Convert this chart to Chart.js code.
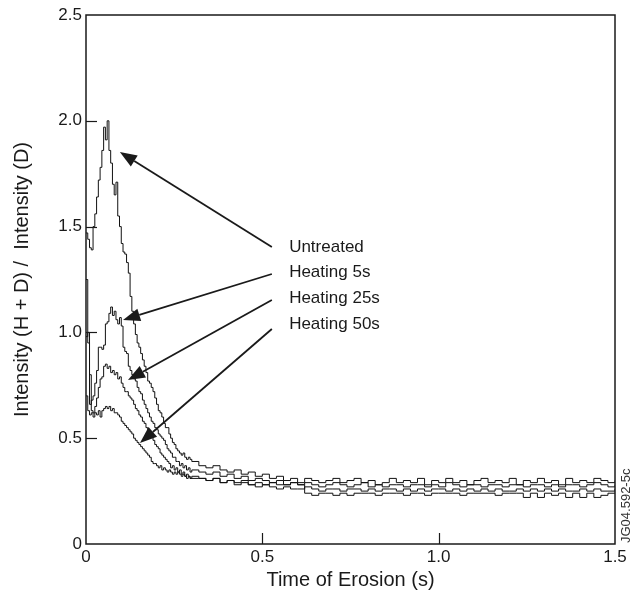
<!DOCTYPE html>
<html>
<head>
<meta charset="utf-8">
<script src="https://cdn.jsdelivr.net/npm/chart.js@4"></script>
<style>
  html, body { margin: 0; padding: 0; background: #fff; }
  #wrap { width: 641px; height: 601px; }
</style>
</head>
<body>
<div id="wrap"><canvas id="erosionChart" width="641" height="601"></canvas></div>
<script>
// sample times (s)
const times = [
  0, 0.005, 0.01, 0.015, 0.02, 0.025, 0.03, 0.035, 0.04, 0.045,
  0.05, 0.055, 0.06, 0.065, 0.07, 0.075, 0.08, 0.085, 0.09, 0.095,
  0.1, 0.105, 0.11, 0.115, 0.12, 0.125, 0.13, 0.135, 0.14, 0.145,
  0.15, 0.155, 0.16, 0.165, 0.17, 0.175, 0.18, 0.185, 0.19, 0.195,
  0.2, 0.205, 0.21, 0.215, 0.22, 0.225, 0.23, 0.235, 0.24, 0.245,
  0.25, 0.255, 0.26, 0.265, 0.27, 0.275, 0.28, 0.285, 0.29, 0.295,
  0.3,
  0.32, 0.34, 0.36, 0.38, 0.4, 0.42, 0.44, 0.46, 0.48, 0.5,
  0.52, 0.54, 0.56, 0.58, 0.6, 0.62, 0.64, 0.66, 0.68, 0.7,
  0.72, 0.74, 0.76, 0.78, 0.8, 0.82, 0.84, 0.86, 0.88, 0.9,
  0.92, 0.94, 0.96, 0.98, 1.0, 1.02, 1.04, 1.06, 1.08, 1.1,
  1.12, 1.14, 1.16, 1.18, 1.2, 1.22, 1.24, 1.26, 1.28, 1.3,
  1.32, 1.34, 1.36, 1.38, 1.4, 1.42, 1.44, 1.46, 1.48, 1.5
];

const untreated = [
  1.47, 1.44, 1.40, 1.39, 1.50, 1.56, 1.64, 1.72, 1.78, 1.86,
  1.97, 1.91, 2.00, 1.86, 1.80, 1.70, 1.65, 1.71, 1.55, 1.50,
  1.42, 1.38, 1.37, 1.33, 1.28, 1.17, 1.10, 1.04, 0.99, 0.95,
  0.93, 0.90, 0.87, 0.84, 0.81, 0.77, 0.76, 0.74, 0.72, 0.69,
  0.66, 0.63, 0.62, 0.60, 0.57, 0.55, 0.55, 0.52, 0.50, 0.48,
  0.47, 0.45, 0.44, 0.43, 0.42, 0.43, 0.41, 0.40, 0.41, 0.40,
  0.39,
  0.37, 0.36, 0.37, 0.35, 0.34, 0.35, 0.33, 0.34, 0.32, 0.33,
  0.31, 0.32, 0.30, 0.31, 0.29, 0.31, 0.30, 0.29, 0.30, 0.31,
  0.29, 0.30, 0.31, 0.29, 0.30, 0.28, 0.29, 0.31, 0.29, 0.30,
  0.29, 0.31, 0.28, 0.30, 0.29, 0.31, 0.29, 0.30, 0.28, 0.30,
  0.31, 0.29, 0.30, 0.29, 0.31, 0.28, 0.30, 0.29, 0.31, 0.29,
  0.30, 0.28, 0.31, 0.29, 0.30, 0.29, 0.31, 0.30, 0.29, 0.30
];

const heating5 = [
  1.25, 0.95, 0.66, 0.68, 0.70, 0.76, 0.82, 0.93, 0.93, 0.92,
  0.94, 1.04, 1.05, 1.09, 1.12, 1.08, 1.10, 1.06, 1.04, 1.07,
  1.03, 0.93, 0.91, 0.90, 0.84, 0.82, 0.80, 0.78, 0.77, 0.74,
  0.72, 0.71, 0.68, 0.66, 0.64, 0.62, 0.60, 0.58, 0.57, 0.55,
  0.54, 0.52, 0.51, 0.50, 0.49, 0.47, 0.45, 0.44, 0.43, 0.41,
  0.41, 0.39, 0.39, 0.37, 0.38, 0.36, 0.37, 0.35, 0.36, 0.34,
  0.35,
  0.34, 0.33, 0.34, 0.32, 0.33, 0.31, 0.32, 0.30, 0.31, 0.30,
  0.29, 0.30, 0.28, 0.29, 0.28, 0.29, 0.28, 0.27, 0.28, 0.29,
  0.28, 0.27, 0.28, 0.29, 0.27, 0.28, 0.27, 0.28, 0.28, 0.27,
  0.28, 0.28, 0.27, 0.28, 0.27, 0.29, 0.28, 0.27, 0.28, 0.28,
  0.27, 0.28, 0.28, 0.27, 0.28, 0.28, 0.27, 0.28, 0.28, 0.27,
  0.28, 0.27, 0.28, 0.28, 0.27, 0.28, 0.29, 0.28, 0.27, 0.28
];

const heating25 = [
  0.98, 1.00, 0.80, 0.63, 0.62, 0.65, 0.69, 0.74, 0.78, 0.79,
  0.84, 0.85, 0.83, 0.84, 0.81, 0.82, 0.80, 0.81, 0.78, 0.79,
  0.76, 0.74, 0.72, 0.72, 0.70, 0.69, 0.68, 0.66, 0.64, 0.63,
  0.61, 0.60, 0.58, 0.57, 0.55, 0.54, 0.52, 0.51, 0.49, 0.47,
  0.46, 0.45, 0.43, 0.42, 0.41, 0.40, 0.39, 0.38, 0.36, 0.37,
  0.35, 0.36, 0.34, 0.35, 0.33, 0.34, 0.32, 0.33, 0.32, 0.31,
  0.32,
  0.31, 0.30, 0.31, 0.29, 0.30, 0.28, 0.29, 0.28, 0.27, 0.28,
  0.27, 0.26, 0.27, 0.26, 0.26, 0.27, 0.26, 0.25, 0.26, 0.26,
  0.25, 0.26, 0.26, 0.25, 0.26, 0.25, 0.26, 0.26, 0.25, 0.26,
  0.25, 0.26, 0.25, 0.26, 0.26, 0.25, 0.26, 0.25, 0.26, 0.25,
  0.26, 0.25, 0.26, 0.25, 0.25, 0.26, 0.25, 0.26, 0.25, 0.26,
  0.25, 0.26, 0.25, 0.25, 0.26, 0.25, 0.26, 0.25, 0.25, 0.26
];

const heating50 = [
  0.70, 0.63, 0.61, 0.62, 0.60, 0.62, 0.61, 0.63, 0.60, 0.63,
  0.64, 0.65, 0.64, 0.65, 0.63, 0.64, 0.62, 0.62, 0.61, 0.60,
  0.58, 0.57, 0.56, 0.55, 0.54, 0.53, 0.52, 0.50, 0.49, 0.48,
  0.47, 0.46, 0.45, 0.44, 0.43, 0.42, 0.41, 0.39, 0.38, 0.38,
  0.37, 0.36, 0.37, 0.35, 0.36, 0.35, 0.34, 0.35, 0.34, 0.33,
  0.34, 0.33, 0.34, 0.33, 0.32, 0.33, 0.32, 0.31, 0.32, 0.31,
  0.31,
  0.31, 0.30, 0.31, 0.29, 0.30, 0.29, 0.30, 0.28, 0.29, 0.28,
  0.29, 0.28, 0.28, 0.29, 0.28, 0.24, 0.23, 0.24, 0.24, 0.23,
  0.24, 0.23, 0.24, 0.24, 0.24, 0.23, 0.24, 0.24, 0.24, 0.23,
  0.24, 0.24, 0.23, 0.24, 0.24, 0.24, 0.24, 0.23, 0.24, 0.24,
  0.24, 0.24, 0.23, 0.24, 0.24, 0.24, 0.22, 0.24, 0.22, 0.24,
  0.23, 0.24, 0.22, 0.24, 0.22, 0.24, 0.22, 0.23, 0.24, 0.24
];

// annotation labels and arrows (data coordinates)
const labelNames = ["Untreated", "Heating 5s", "Heating 25s", "Heating 50s"];
const labelY = [1.40, 1.285, 1.16, 1.04];
const labelX = 0.576;
const arrowTailX = 0.527;
const arrowTailY = [1.404, 1.276, 1.153, 1.016];
const arrowTipX = [0.096, 0.105, 0.119, 0.153];
const arrowTipY = [1.853, 1.059, 0.775, 0.477];

const FONT = "'Liberation Sans', Arial, Helvetica, sans-serif";
const INK = "#1a1a1a";

function series(vals) {
  return times.map((t, i) => ({ x: t, y: vals[i] }));
}

function arrow(ctx, x1, y1, x2, y2) {
  const ang = Math.atan2(y2 - y1, x2 - x1);
  const len = 17, half = 6.5;
  const bx = x2 - len * Math.cos(ang), by = y2 - len * Math.sin(ang);
  ctx.beginPath();
  ctx.moveTo(x1, y1);
  ctx.lineTo(bx, by);
  ctx.stroke();
  ctx.beginPath();
  ctx.moveTo(x2, y2);
  ctx.lineTo(bx + half * Math.sin(ang), by - half * Math.cos(ang));
  ctx.lineTo(bx - half * Math.sin(ang), by + half * Math.cos(ang));
  ctx.closePath();
  ctx.fill();
}

// box, inward ticks, arrows and labels
const decorations = {
  id: "decorations",
  afterDraw(chart) {
    const { ctx, chartArea: a, scales: { x, y } } = chart;
    ctx.save();
    ctx.strokeStyle = INK;
    ctx.fillStyle = INK;
    ctx.lineWidth = 1.5;
    ctx.strokeRect(a.left, a.top, a.right - a.left, a.bottom - a.top);

    ctx.lineWidth = 1.2;
    y.ticks.forEach(t => {
      if (t.value <= 0 || t.value >= 2.5) return;
      const py = Math.round(y.getPixelForValue(t.value)) + 0.5;
      ctx.beginPath();
      ctx.moveTo(a.left, py);
      ctx.lineTo(a.left + 11, py);
      ctx.stroke();
    });
    x.ticks.forEach(t => {
      if (t.value <= 0 || t.value >= 1.5) return;
      const px = Math.round(x.getPixelForValue(t.value)) + 0.5;
      ctx.beginPath();
      ctx.moveTo(px, a.bottom);
      ctx.lineTo(px, a.bottom - 11);
      ctx.stroke();
    });

    ctx.lineWidth = 1.8;
    labelNames.forEach((name, i) => {
      arrow(ctx,
        x.getPixelForValue(arrowTailX), y.getPixelForValue(arrowTailY[i]),
        x.getPixelForValue(arrowTipX[i]), y.getPixelForValue(arrowTipY[i]));
      ctx.font = "17px " + FONT;
      ctx.textAlign = "left";
      ctx.textBaseline = "middle";
      ctx.fillText(name, x.getPixelForValue(labelX), y.getPixelForValue(labelY[i]));
    });

    ctx.font = "13px " + FONT;
    ctx.fillStyle = "#333";
    ctx.translate(626, 543);
    ctx.rotate(-Math.PI / 2);
    ctx.textAlign = "left";
    ctx.textBaseline = "middle";
    ctx.fillText("JG04.592-5c", 0, 0);
    ctx.restore();
  }
};

const lineStyle = {
  borderColor: "#111",
  borderWidth: 1,
  pointRadius: 0,
  fill: false,
  stepped: true
};

const ctx = document.getElementById("erosionChart").getContext("2d");

new Chart(ctx, {
  type: "line",
  data: {
    datasets: [
      { label: labelNames[0], data: series(untreated), ...lineStyle },
      { label: labelNames[1], data: series(heating5), ...lineStyle },
      { label: labelNames[2], data: series(heating25), ...lineStyle },
      { label: labelNames[3], data: series(heating50), ...lineStyle }
    ]
  },
  options: {
    responsive: false,
    animation: false,
    layout: { padding: { top: 15, right: 26, left: 0, bottom: 0 } },
    plugins: {
      legend: { display: false },
      tooltip: { enabled: false }
    },
    scales: {
      x: {
        type: "linear",
        min: 0,
        max: 1.5,
        grid: { display: false, drawTicks: false },
        border: { display: false },
        ticks: {
          stepSize: 0.5,
          padding: 3,
          maxRotation: 0,
          color: INK,
          font: { family: FONT, size: 17 },
          callback: v => v === 0 ? "0" : v.toFixed(1)
        },
        title: {
          display: true,
          text: "Time of Erosion (s)",
          color: INK,
          font: { family: FONT, size: 20 },
          padding: { top: 0, bottom: 9 }
        },
        afterFit: s => { s.height = 57; }
      },
      y: {
        min: 0,
        max: 2.5,
        grid: { display: false, drawTicks: false },
        border: { display: false },
        ticks: {
          stepSize: 0.5,
          padding: 4,
          color: INK,
          font: { family: FONT, size: 17 },
          callback: v => v === 0 ? "0" : v.toFixed(1)
        },
        title: {
          display: true,
          text: "Intensity (H + D) /  Intensity (D)",
          color: INK,
          font: { family: FONT, size: 20 },
          padding: { top: 10, bottom: 0 }
        },
        afterFit: s => { s.width = 86; }
      }
    }
  },
  plugins: [decorations]
});
</script>
</body>
</html>
